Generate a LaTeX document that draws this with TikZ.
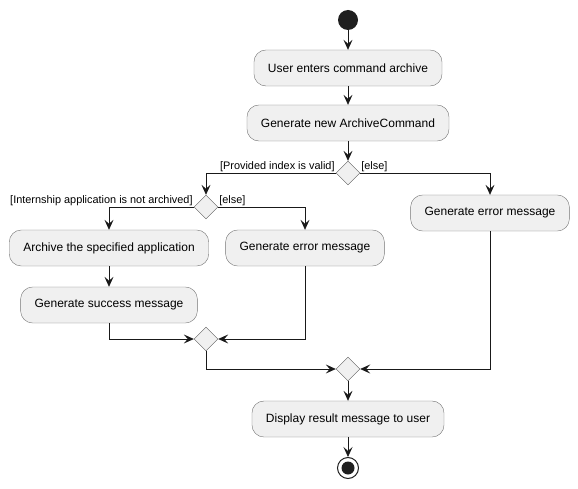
\documentclass[tikz,border=0pt]{standalone}
\usepackage{fontspec}
\setmainfont{Liberation Sans}
\usetikzlibrary{arrows.meta,shapes.geometric}

\tikzset{
  act/.style={draw=black!55, fill=black!6, rounded corners=12pt, minimum height=36pt,
    inner xsep=14pt, font=\fontsize{12}{14}\selectfont},
  merge/.style={diamond, draw=black!65, fill=black!6, minimum size=24pt, inner sep=0pt},
  startnode/.style={circle, fill=black!88, minimum size=20pt, inner sep=0pt},
  stopnode/.style={circle, draw=black!88, line width=1pt, fill=white, minimum size=21pt, inner sep=0pt,
    path picture={\fill[black!88] (path picture bounding box.center) circle (6.5pt);}},
  flow/.style={draw=black!90, line width=0.8pt, -{Stealth[length=10pt,width=9pt,inset=4pt]}},
  guard/.style={font=\fontsize{10.9}{13}\selectfont, inner sep=1pt},
}

\begin{document}
\begin{tikzpicture}[x=1pt,y=-1pt]
            \useasboundingbox (0,0) rectangle (578,489);

            \node[startnode] (start) at (348,20) {};
            \node[act] (enter) at (348,68) {User enters command archive};
            \node[act] (gen) at (348,123) {Generate new ArchiveCommand};
            \node[merge] (valid) at (348,173) {};
            \node[act] (err1) at (490,213) {Generate error message};

            \node[merge] (archived) at (206,207) {};
            \node[act] (archive) at (109,248) {Archive the specified application};
            \node[act] (err2) at (305,248) {Generate error message};
            \node[act] (success) at (109,305) {Generate success message};

            \node[merge] (join1) at (206,339) {};
            \node[merge] (join2) at (348,369) {};
            \node[act] (display) at (348,419) {Display result message to user};
            \node[stopnode] (stop) at (348,468) {};

            % guards
            \node[guard, anchor=south east] (validyes) at (valid.west) {[Provided index is valid]};
            \node[guard, anchor=south west] (validno) at (valid.east) {[else]};
            \node[guard, anchor=south east] (archivedyes) at (archived.west) {[Internship application is not archived]};
            \node[guard, anchor=south west] (archivedno) at (archived.east) {[else]};

            \draw[flow] (start) -- (enter);
            \draw[flow] (enter) -- (gen);
            \draw[flow] (gen) -- (valid);
            \draw[flow] (valid.west) -| (archived.north);
            \draw[flow] (valid.east) -| (err1.north);
            \draw[flow] (archived.west) -| (archive.north);
            \draw[flow] (archived.east) -| (err2.north);
            \draw[flow] (archive) -- (success);

            \draw[flow] (success.south) |- (join1.west);
            \draw[flow] (err2.south) |- (join1.east);
            \draw[flow] (join1.south) |- (join2.west);
            \draw[flow] (err1.south) |- (join2.east);
            \draw[flow] (join2) -- (display);
            \draw[flow] (display) -- (stop);
          \end{tikzpicture}
\end{document}
